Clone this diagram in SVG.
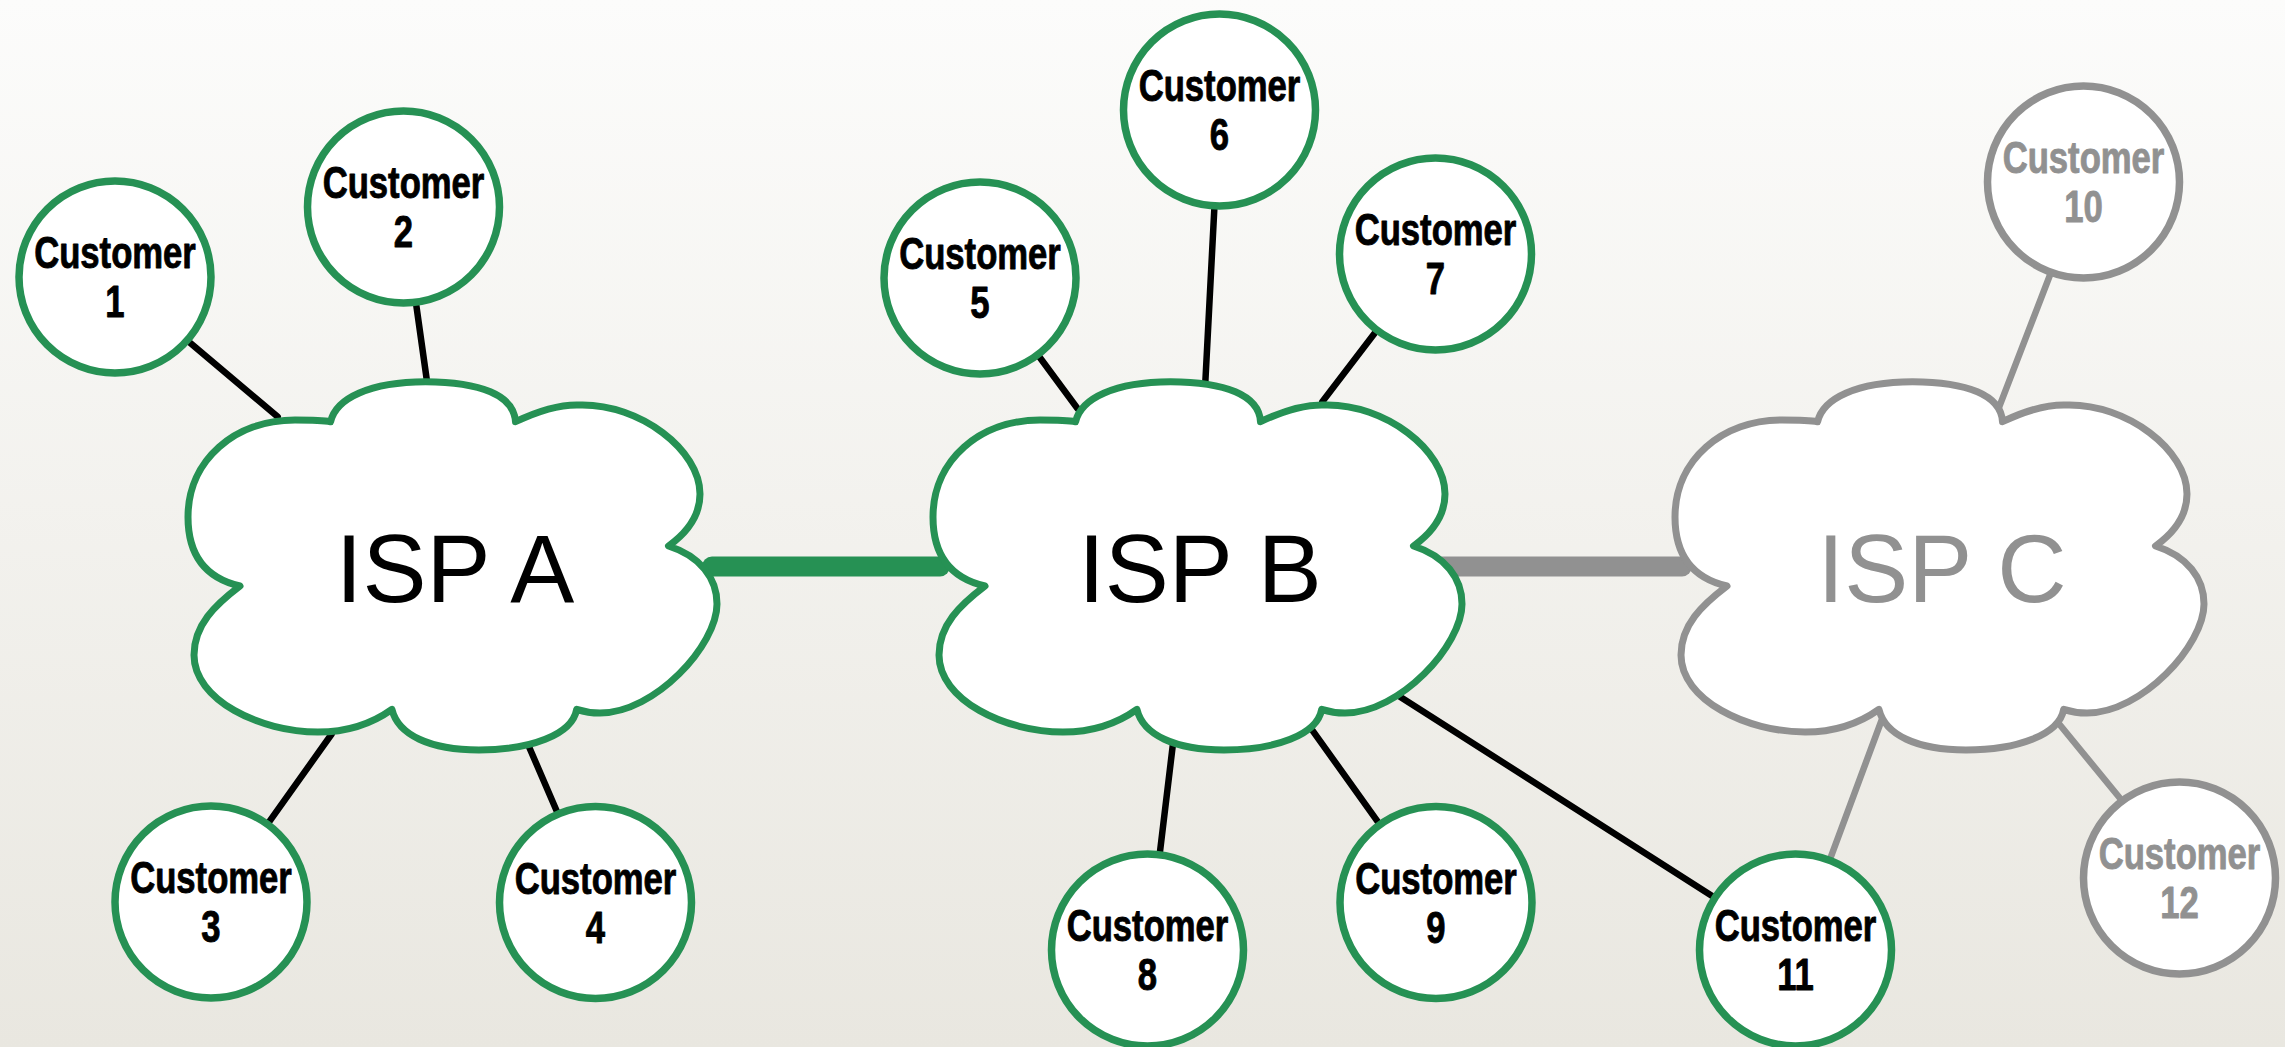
<svg xmlns="http://www.w3.org/2000/svg" xmlns:xlink="http://www.w3.org/1999/xlink" width="2285" height="1047" viewBox="0 0 2285 1047">
<defs>
<linearGradient id="bg" x1="0" y1="0" x2="0" y2="1">
<stop offset="0" stop-color="#fcfcfb"/>
<stop offset="1" stop-color="#e9e7e0"/>
</linearGradient>
<path id="cloud" d="M 330.6 421.7 C 336 398 370 382 425.5 381.7 C 480 382 514 395 515.5 421.7 C 540 410 560 404 580.5 405 C 640 404 700 450 700 494 C 700 515 688 532 668.5 546 C 700 556 717 578 717 604 C 717 645 655 713 600 713 C 590 713 582 711 576.7 709.3 C 572 735 530 750 479 750 C 430 750 398 735 391.9 709.3 C 370 725 345 732 318 732 C 260 732 194 700 194 655 C 194 625 215 605 240 586 C 205 578 188 555 188 517 C 188 460 235 420 295 420 C 310 420 322 420 330.6 421.7 Z"/>
</defs>
<style>
.green { stroke: #269154; }
.grey { stroke: #919191; }
.cloud { fill: #ffffff; stroke-width: 7; stroke-linejoin: round; }
.cust { fill: #ffffff; stroke-width: 7.5; }
.link { stroke-width: 6.5; stroke-linecap: round; fill: none; }
.black { stroke: #000000; }
.trunk { stroke-width: 20; stroke-linecap: round; }
.isp { font-family: "Liberation Sans", Arial, sans-serif; font-size: 96px; text-anchor: middle; }
.lbl { font-family: "Liberation Sans", Arial, sans-serif; font-size: 45px; font-weight: bold; text-anchor: middle; stroke-width: 0.9; stroke-linejoin: round; }
.dark { fill: #000000; }
.lbl.dark { stroke: #000000; }
.light { fill: #919191; }
.lbl.light { stroke: #919191; }
</style>
<rect x="0" y="0" width="2285" height="1047" fill="url(#bg)"/>

<g id="connectors">
<line class="trunk green" x1="712" y1="566.5" x2="940" y2="566.5"/>
<line class="trunk grey" x1="1442" y1="566.5" x2="1682" y2="566.5"/>
<line class="link black" x1="190" y1="342.7" x2="277.7" y2="416.7"/>
<line class="link black" x1="416" y1="303.3" x2="426.7" y2="379.3"/>
<line class="link black" x1="331.7" y1="734" x2="269.3" y2="821.7"/>
<line class="link black" x1="529" y1="746.7" x2="556.7" y2="811"/>
<line class="link black" x1="1039.3" y1="356.7" x2="1077.3" y2="408.3"/>
<line class="link black" x1="1214.3" y1="209.3" x2="1205.3" y2="382.7"/>
<line class="link black" x1="1375" y1="332.7" x2="1322.3" y2="401.7"/>
<line class="link black" x1="1172.7" y1="746" x2="1160" y2="851.7"/>
<line class="link black" x1="1311.7" y1="729.3" x2="1377.7" y2="821.7"/>
<line class="link black" x1="1400" y1="696.7" x2="1713.3" y2="896.7"/>
<line class="link grey" x1="2050" y1="275" x2="1999.3" y2="406.7"/>
<line class="link grey" x1="1830.7" y1="857.3" x2="1881.7" y2="720"/>
<line class="link grey" x1="2060" y1="725" x2="2120" y2="798.3"/>
</g>

<g id="ispA">
<use xlink:href="#cloud" href="#cloud" class="cloud green"/>
<text class="isp dark" x="455" y="602">ISP A</text>
</g>
<g id="ispB">
<use xlink:href="#cloud" href="#cloud" class="cloud green" transform="translate(745,0)"/>
<text class="isp dark" x="1200" y="602">ISP B</text>
</g>
<g id="ispC">
<use xlink:href="#cloud" href="#cloud" class="cloud grey" transform="translate(1487,0)"/>
<text class="isp light" x="1942" y="602">ISP C</text>
</g>

<g id="customer1" transform="translate(115,277)">
<circle class="cust green" r="96"/>
<text class="lbl dark" transform="scale(0.77,1)"><tspan x="0" y="-9">Customer</tspan><tspan x="0" y="40.5">1</tspan></text>
</g>
<g id="customer2" transform="translate(403.5,207)">
<circle class="cust green" r="96"/>
<text class="lbl dark" transform="scale(0.77,1)"><tspan x="0" y="-9">Customer</tspan><tspan x="0" y="40.5">2</tspan></text>
</g>
<g id="customer3" transform="translate(211,902)">
<circle class="cust green" r="96"/>
<text class="lbl dark" transform="scale(0.77,1)"><tspan x="0" y="-9">Customer</tspan><tspan x="0" y="40.5">3</tspan></text>
</g>
<g id="customer4" transform="translate(595.5,902.5)">
<circle class="cust green" r="96"/>
<text class="lbl dark" transform="scale(0.77,1)"><tspan x="0" y="-9">Customer</tspan><tspan x="0" y="40.5">4</tspan></text>
</g>
<g id="customer5" transform="translate(980,278)">
<circle class="cust green" r="96"/>
<text class="lbl dark" transform="scale(0.77,1)"><tspan x="0" y="-9">Customer</tspan><tspan x="0" y="40.5">5</tspan></text>
</g>
<g id="customer6" transform="translate(1219.5,110)">
<circle class="cust green" r="96"/>
<text class="lbl dark" transform="scale(0.77,1)"><tspan x="0" y="-9">Customer</tspan><tspan x="0" y="40.5">6</tspan></text>
</g>
<g id="customer7" transform="translate(1435.5,254)">
<circle class="cust green" r="96"/>
<text class="lbl dark" transform="scale(0.77,1)"><tspan x="0" y="-9">Customer</tspan><tspan x="0" y="40.5">7</tspan></text>
</g>
<g id="customer8" transform="translate(1147.5,950)">
<circle class="cust green" r="96"/>
<text class="lbl dark" transform="scale(0.77,1)"><tspan x="0" y="-9">Customer</tspan><tspan x="0" y="40.5">8</tspan></text>
</g>
<g id="customer9" transform="translate(1436,902.5)">
<circle class="cust green" r="96"/>
<text class="lbl dark" transform="scale(0.77,1)"><tspan x="0" y="-9">Customer</tspan><tspan x="0" y="40.5">9</tspan></text>
</g>
<g id="customer10" transform="translate(2083.5,182)">
<circle class="cust grey" r="96"/>
<text class="lbl light" transform="scale(0.77,1)"><tspan x="0" y="-9">Customer</tspan><tspan x="0" y="40.5">10</tspan></text>
</g>
<g id="customer11" transform="translate(1795.5,950)">
<circle class="cust green" r="96"/>
<text class="lbl dark" transform="scale(0.77,1)"><tspan x="0" y="-9">Customer</tspan><tspan x="0" y="40.5">11</tspan></text>
</g>
<g id="customer12" transform="translate(2179.5,878)">
<circle class="cust grey" r="96"/>
<text class="lbl light" transform="scale(0.77,1)"><tspan x="0" y="-9">Customer</tspan><tspan x="0" y="40.5">12</tspan></text>
</g>
</svg>
